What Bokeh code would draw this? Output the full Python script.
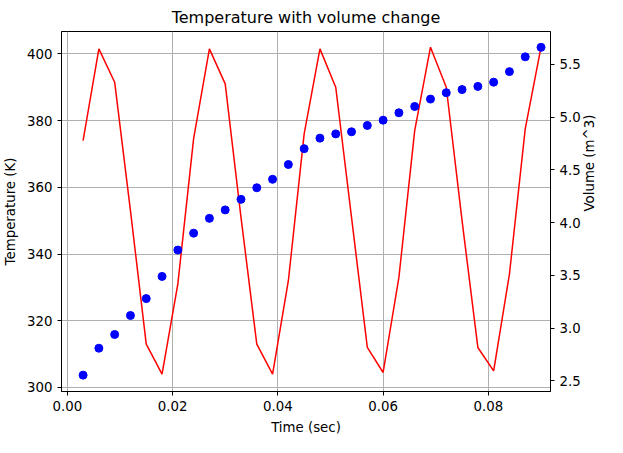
import math
from bokeh.plotting import figure
from bokeh.models import LinearAxis, Range1d, SingleIntervalTicker, CustomJSTickFormatter
from bokeh.embed import file_html
from bokeh.resources import INLINE

time = [0.003*i for i in range(1, 31)]
temperature = [374, 401.5, 391.5, 353, 313, 304, 331, 374.6, 401.5, 391, 351, 313, 304, 332, 376,
               401.5, 390, 351, 312, 304.5, 333, 377, 402, 390, 350, 312, 305, 334, 377.5, 402]
volume = [2.555, 2.81, 2.94, 3.12, 3.28, 3.49, 3.74, 3.90, 4.04, 4.12, 4.22, 4.33, 4.41, 4.55, 4.70,
          4.80, 4.84, 4.86, 4.92, 4.97, 5.04, 5.10, 5.17, 5.23, 5.26, 5.29, 5.33, 5.43, 5.57, 5.66]

p = figure(width=607, height=437, output_backend="svg", toolbar_location=None,
           title="Temperature with volume change",
           x_range=Range1d(-0.0011, 0.0918), y_range=Range1d(298.8, 406.7),
           min_border_left=55, min_border_right=55, min_border_top=20, min_border_bottom=45)
p.title.align = "center"
p.title.text_font = "DejaVu Sans"
p.title.text_font_style = "normal"
p.title.text_font_size = "12pt"
p.title.text_color = "black"
p.extra_y_ranges = {"vol": Range1d(2.40, 5.81)}
p.line(time, temperature, color="red", line_width=1.5)
p.scatter(time, volume, y_range_name="vol", size=8, color="blue")
ax2 = LinearAxis(y_range_name="vol", axis_label="Volume (m^3)", ticker=SingleIntervalTicker(interval=0.5),
                 formatter=CustomJSTickFormatter(code="return tick.toFixed(1);"))
p.add_layout(ax2, "right")
ax2.axis_label_orientation = math.pi/2
p.xaxis.axis_label = "Time (sec)"
p.yaxis[0].axis_label = "Temperature (K)"
p.xaxis.ticker = SingleIntervalTicker(interval=0.02)
p.xaxis.formatter = CustomJSTickFormatter(code="return tick.toFixed(2);")
p.yaxis[0].ticker = SingleIntervalTicker(interval=20)
for ax in p.axis:
    ax.axis_label_text_font = "DejaVu Sans"
    ax.axis_label_text_font_style = "normal"
    ax.axis_label_text_font_size = "10pt"
    ax.axis_label_text_color = "black"
    ax.major_label_text_font = "DejaVu Sans"
    ax.major_label_text_font_size = "10pt"
    ax.major_label_text_color = "black"
    ax.minor_tick_line_color = None
    ax.major_tick_in = 0
    ax.major_tick_out = 4
    ax.axis_label_standoff = 6
p.outline_line_color = "black"
p.grid.grid_line_color = "#b0b0b0"
p.grid.grid_line_alpha = 1.0
open("out.html", "w").write(file_html(p, INLINE))
